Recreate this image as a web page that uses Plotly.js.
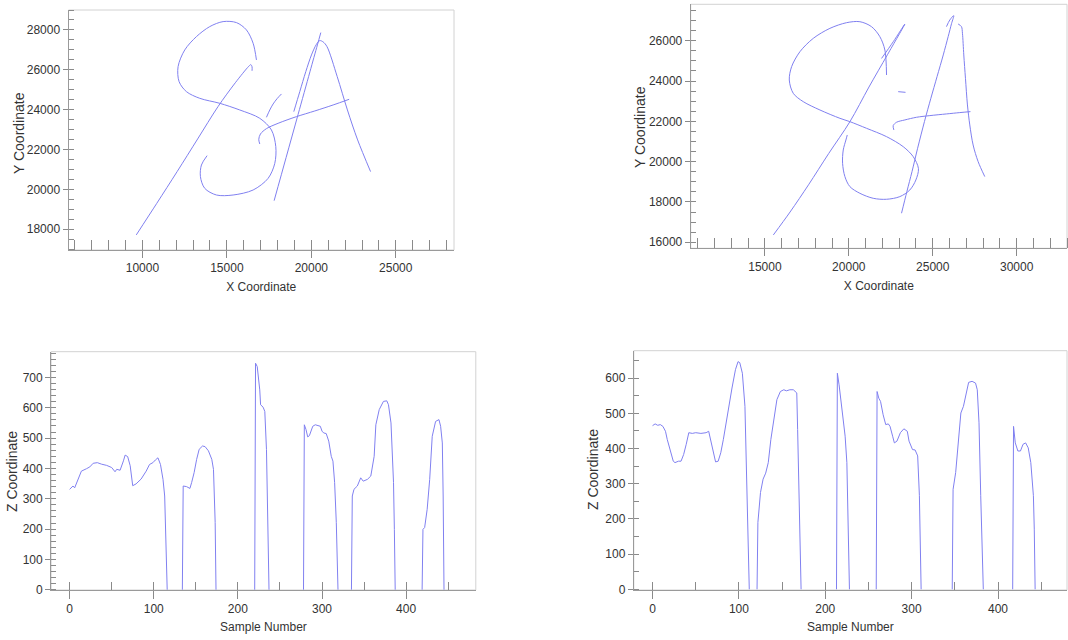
<!DOCTYPE html>
<html>
<head>
<meta charset="utf-8">
<script src="https://cdn.plot.ly/plotly-3.0.1.min.js"></script>
<style>html,body{margin:0;padding:0;background:#fff}#chart{width:1068px;height:640px}</style>
</head>
<body>
<div id="chart"></div>
<script>
const N = null;
// ---------- Signature 1 (top-left), strokes separated by null ----------
const sig1X = [
  16751,16554,16159,15567,14777,13987,13198,12507,12112,12171,12606,13395,14580,15764,16948,17639,17896,17837,17442,16554,15369,14382,13691,13435,13494,13830, N,
  9637,10850,12056,13270,14475,15500,16300,16420,16490,16490, N,
  17343,17541,17738,17975,18232, N,
  17797,18507,19212,19917,20360,20561, N,
  18962,19317,19673,20008,20304,20502,20699,20927,21532,22136,22741,23507, N,
  16948,16889,16988,17343,18034,19120,20206,21291,22239
];
const sig1Y = [
  26494,27331,28000,28368,28418,28167,27665,26996,26160,25407,24905,24570,24319,23985,23567,22981,22145,21308,20555,19970,19719,19719,20053,20639,21224,21693, N,
  17716,19300,20893,22530,24153,25350,26180,26260,26150,25950, N,
  23617,23985,24286,24554,24788, N,
  19434,21600,23750,25900,27250,27866, N,
  23901,24905,25909,26745,27281,27465,27398,27164,25659,23987,22482,20894, N,
  22278,22513,22780,23048,23316,23650,23935,24236,24520
];
// ---------- Signature 2 (top-right) ----------
const sig2X = [
  15504,16500,17600,18800,20067,21200,22300,23341,22650,21950, N,
  22248,22149,21851,21355,20660,19867,18875,17883,17089,16593,16454,16692,17287,18279,19470,20065,21057,22248,23240,23836,24150,23995,23637,23042,22248,21454,20660,20065,19768,19629,19669,19828,19907, N,
  22942,23379, N,
  23141,23460,23766,24100,24507,24889,25258,25627,25920,26125,26255,26017,25819, N,
  26513,26712,26771,26851,26950,27069,27208,27406,27704,28101, N,
  22684,22645,22843,23339,24033,24827,25819,26612,27247
];
const sig2Y = [
  16363,17500,18850,20400,21983,23700,25300,26827,25950,25120, N,
  24297,25537,26198,26694,26942,26893,26612,26116,25455,24711,24050,23388,22975,22562,22149,21983,21653,21239,20743,20248,19650,19090,18594,18264,18132,18181,18429,18760,19256,19917,20578,21074,21322, N,
  23471,23438, N,
  17440,18514,19506,20663,21986,23142,24217,25292,26201,26862,27242,27027,26697, N,
  26829,26697,26366,25292,24134,22812,21820,20828,20002,19258, N,
  21572,21787,21952,22068,22200,22283,22366,22432,22481
];
// ---------- Z coordinate, signature 1 (bottom-left) ----------
const zSample1 = [
  0,4,6,9,14,20,24,28,33,38,44,50,54,56,60,64,66,69,72,75,79,85,91,95,99,102,105,108,111,113,114,115,116, N,
  134,135,139,143,145,148,151,154,158,161,165,169,171,172,173,174, N,
  220,221,223,226,227,230,232,234,235,237, N,
  278,279,281,283,285,289,292,296,298,300,302,305,308,311,313,315,317,319, N,
  335,336,338,342,346,349,354,358,362,364,368,373,377,379,382,385,386,387, N,
  419,420,422,425,428,431,435,439,441,443,444,445
];
const zValue1 = [
  331,342,336,358,391,399,405,417,419,414,410,403,389,397,394,425,444,439,409,343,349,365,391,413,419,428,435,413,364,309,222,113,0, N,
  0,342,340,334,353,386,430,463,474,472,458,430,397,331,222,0, N,
  0,747,736,659,610,602,588,462,309,0, N,
  0,544,528,504,508,539,544,542,539,523,517,515,490,440,424,353,221,0, N,
  0,309,331,342,369,358,364,375,440,544,594,621,623,610,550,353,199,0, N,
  0,199,205,265,364,506,555,561,539,484,309,0
];
// ---------- Z coordinate, signature 2 (bottom-right) ----------
const zSample2 = [
  0,3,6,9,12,15,17,21,24,26,30,33,36,39,42,46,50,56,62,65,67,70,73,76,79,82,86,89,92,96,99,101,104,107,108,110,112, N,
  121,122,125,128,131,134,137,141,144,148,152,155,159,163,167,168,170,172, N,
  213,214,216,220,223,225,226,228, N,
  259,260,262,264,267,270,273,275,278,280,283,287,291,295,297,301,304,307,309,310,311, N,
  347,348,351,354,357,360,363,366,370,374,376,378,380,383, N,
  417,418,420,423,426,429,432,435,438,441,442,443
];
const zValue2 = [
  465,470,466,468,463,449,426,388,364,360,364,364,383,412,445,443,445,443,445,449,426,388,362,364,388,426,487,525,572,624,647,644,614,520,426,266,0, N,
  0,190,275,313,330,360,426,492,539,562,567,564,567,567,558,454,219,0, N,
  0,614,581,501,435,360,266,0, N,
  0,562,543,534,496,468,470,463,435,416,421,445,456,449,421,397,396,379,266,171,0, N,
  0,284,332,426,501,520,558,588,591,586,567,473,266,0, N,
  0,463,416,393,393,412,416,402,360,266,171,0
];
// ---------- tick values and titles ----------
const xTicks1 = [10000,15000,20000,25000];
const yTicks1 = [18000,20000,22000,24000,26000,28000];
const xTicks2 = [15000,20000,25000,30000];
const yTicks2 = [16000,18000,20000,22000,24000,26000];
const xTicks3 = [0,100,200,300,400];
const yTicks3 = [0,100,200,300,400,500,600,700];
const xTicks4 = [0,100,200,300,400];
const yTicks4 = [0,100,200,300,400,500,600];
const xTitles = ['X Coordinate','X Coordinate','Sample Number','Sample Number'];
const yTitles = ['Y Coordinate','Y Coordinate','Z Coordinate','Z Coordinate'];

const LINE = {color:'rgb(128,128,240)', width:1};
const FONT = 'Liberation Sans, Arial, sans-serif';
const TICKC = '#8a8a8a';

function trace(x, y, xa, ya, spline){
  return {x:x, y:y, xaxis:xa, yaxis:ya, type:'scatter', mode:'lines',
    line:Object.assign({}, LINE, spline ? {shape:'spline', smoothing:0.9} : {}),
    connectgaps:false, hoverinfo:'skip', showlegend:false};
}
function xAxis(domain, range, vals, minorStep, anchor, title, inLen, outLen, standoff){
  return {domain:domain, range:range, anchor:anchor, tickmode:'array', tickvals:vals,
    ticks:'outside', ticklen:outLen, tickwidth:1, tickcolor:TICKC,
    showline:true, linecolor:'#9a9a9a', linewidth:1, showgrid:false, zeroline:false,
    tickformat:'d', tickfont:{family:FONT, size:12, color:'#333'},
    minor:{tickmode:'linear', tick0:0, dtick:minorStep, ticks:'inside', ticklen:inLen, tickwidth:1, tickcolor:TICKC, showgrid:false},
    title:{text:title, font:{family:FONT, size:12, color:'#333'}, standoff:standoff}, fixedrange:true};
}
function xOver(base, range, vals, inLen){
  return {overlaying:base, anchor:base==='x'?'y':base.replace('x','y'), range:range, tickmode:'array', tickvals:vals,
    ticks:'inside', ticklen:inLen, tickwidth:1, tickcolor:TICKC, showticklabels:false,
    showline:false, showgrid:false, zeroline:false, side:'bottom', fixedrange:true};
}
function yAxis(domain, range, vals, minorStep, anchor){
  return {domain:domain, range:range, anchor:anchor, tickmode:'array', tickvals:vals,
    ticks:'outside', ticklen:5, tickwidth:1, tickcolor:TICKC,
    showline:true, linecolor:'#9a9a9a', linewidth:1, showgrid:false, zeroline:false,
    tickformat:'d', tickfont:{family:FONT, size:12, color:'#333'},
    minor:{tickmode:'linear', tick0:0, dtick:minorStep, ticks:'inside', ticklen:5, tickwidth:1, tickcolor:TICKC, showgrid:false},
    fixedrange:true};
}
function frame(xa, ya){
  return {type:'rect', xref:xa+' domain', yref:ya+' domain', x0:0, x1:1, y0:0, y1:1,
    line:{color:'#d2d2d2', width:1}, layer:'below'};
}
const W = 1068, H = 640;
function yTitle(text, px, py){
  return {text:text, xref:'paper', yref:'paper', x:px/W, y:1-py/H, xanchor:'center', yanchor:'middle',
    textangle:-90, showarrow:false, font:{family:FONT, size:14, color:'#333'}};
}

const dx = (a,b) => [a/W, b/W];
const dy = (top,bottom) => [1-bottom/H, 1-top/H];

const r1x = [5625,28446], r1y = [16960,29000];
const r2x = [10580,33000], r2y = [15700,27805];
const r3x = [-22,482.8], r3y = [-1,785];
const r4x = [-21.7,479.9], r4y = [-2,678];

const data = [
  trace(sig1X, sig1Y, 'x', 'y', true),
  trace(sig2X, sig2Y, 'x2', 'y2', true),
  trace(zSample1, zValue1, 'x3', 'y3', false),
  trace(zSample2, zValue2, 'x4', 'y4', false)
];

const layout = {
  width:W, height:H, margin:{l:0,r:0,t:0,b:0}, paper_bgcolor:'#fff', plot_bgcolor:'#fff',
  showlegend:false, font:{family:FONT, color:'#333'},
  xaxis:  xAxis(dx(68.5,454),  r1x, xTicks1, 1000, 'y',  xTitles[0], 10, 7, 8),
  yaxis:  yAxis(dy(10,250),    r1y, yTicks1, 500,  'x'),
  xaxis2: xAxis(dx(690.7,1067),r2x, xTicks2, 1000, 'y2', xTitles[1], 10, 7, 8),
  yaxis2: yAxis(dy(4.3,248.3), r2y, yTicks2, 500,  'x2'),
  xaxis3: xAxis(dx(51.1,475.8),r3x, xTicks3, 50,   'y3', xTitles[2], 8, 8, 7),
  yaxis3: yAxis(dy(351.7,590), r3y, yTicks3, 20,   'x3'),
  xaxis4: xAxis(dx(633.8,1067),r4x, xTicks4, 50,   'y4', xTitles[3], 8, 8, 7),
  yaxis4: yAxis(dy(350.7,590), r4y, yTicks4, 50,   'x4'),
  xaxis5: xOver('x',  r1x, xTicks1, 10),
  xaxis6: xOver('x2', r2x, xTicks2, 10),
  xaxis7: xOver('x3', r3x, xTicks3, 8),
  xaxis8: xOver('x4', r4x, xTicks4, 8),
  shapes:[frame('x','y'), frame('x2','y2'), frame('x3','y3'), frame('x4','y4')],
  annotations:[
    yTitle(yTitles[0], 19, 133),
    yTitle(yTitles[1], 640, 127),
    yTitle(yTitles[2], 12, 472),
    yTitle(yTitles[3], 593, 470)
  ]
};

Plotly.newPlot('chart', data, layout, {staticPlot:true, displayModeBar:false});
</script>
</body>
</html>
